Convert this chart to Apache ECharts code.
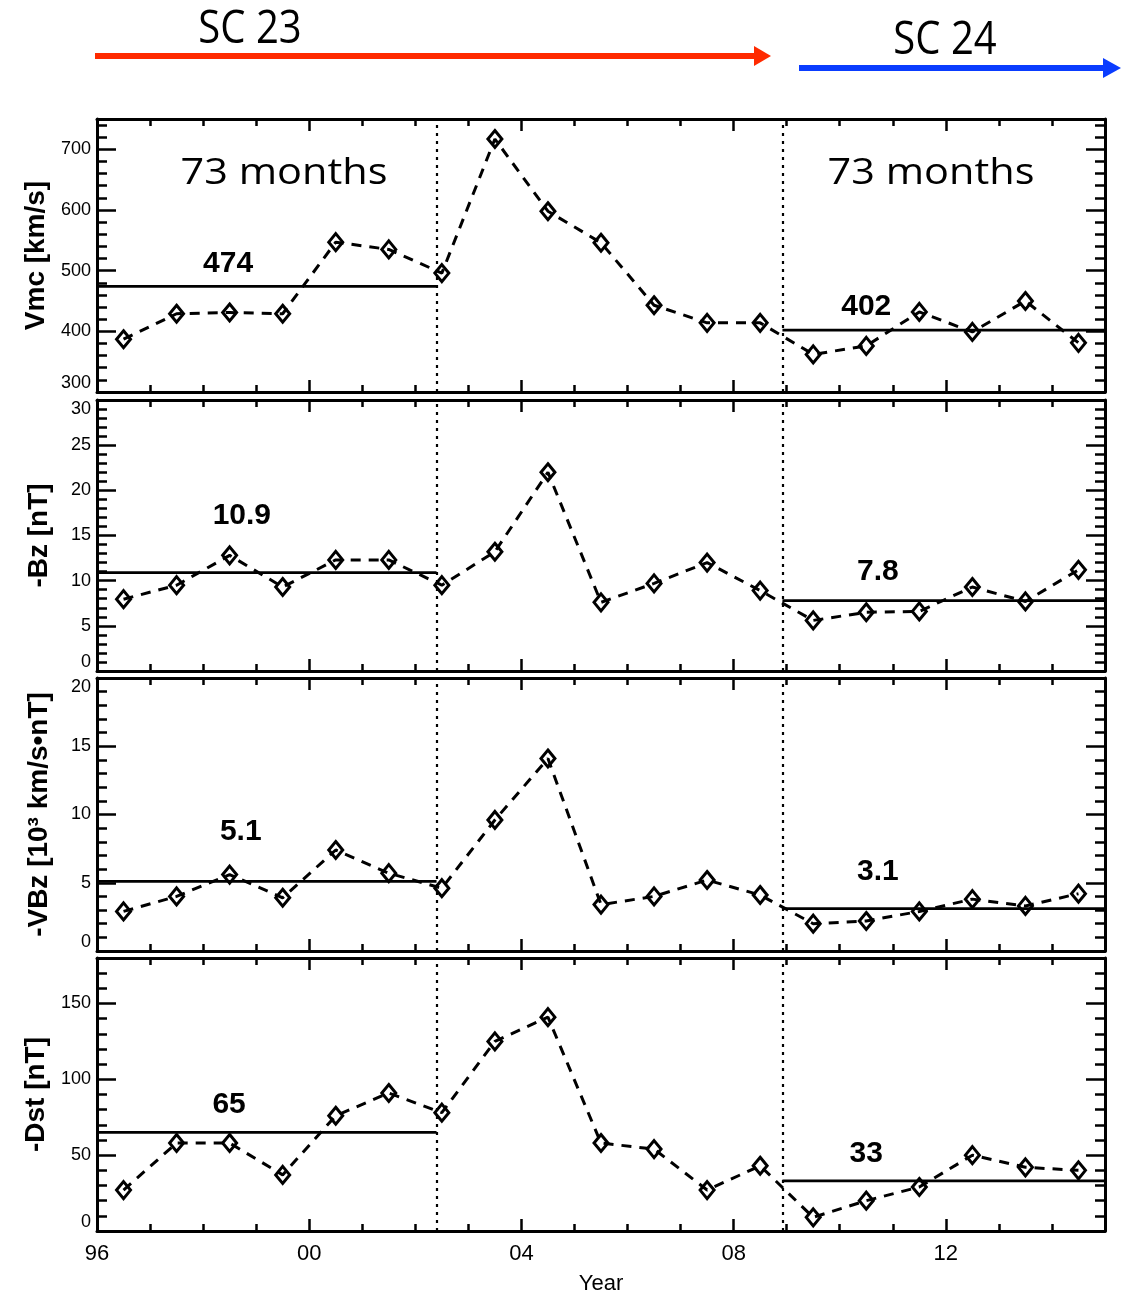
<!DOCTYPE html>
<html><head><meta charset="utf-8">
<script src="https://cdn.jsdelivr.net/npm/echarts@6/dist/echarts.min.js"></script>
<style>html,body{margin:0;padding:0;background:#fff}#c{width:1127px;height:1294px}</style>
</head><body><div id="c"></div>
<script>
// ---------- data ----------
const years = [1996.5,1997.5,1998.5,1999.5,2000.5,2001.5,2002.5,2003.5,2004.5,2005.5,2006.5,2007.5,2008.5,2009.5,2010.5,2011.5,2012.5,2013.5,2014.5];
const vmc    = [387, 429, 431, 429, 547, 535, 496, 717, 598, 546, 443, 414, 414, 362, 376, 432, 399, 450, 381];
const negBz  = [7.95, 9.5, 12.8, 9.3, 12.3, 12.3, 9.5, 13.2, 22.0, 7.6, 9.7, 12.0, 8.9, 5.6, 6.5, 6.6, 9.3, 7.7, 11.2];
const negVBz = [2.9, 4.0, 5.6, 3.9, 7.4, 5.7, 4.6, 9.6, 14.1, 3.4, 4.0, 5.2, 4.1, 2.0, 2.2, 2.9, 3.8, 3.3, 4.2];
const negDst = [27, 58, 58, 37, 76, 91, 78, 125, 141, 58, 54, 27, 43, 9, 20, 29, 50, 42, 40];
const meanSC23 = [474, 10.9, 5.1, 65];
const meanSC24 = [402, 7.8, 3.1, 33];
const meanLabelsSC23 = ['474', '10.9', '5.1', '65'];
const meanLabelsSC24 = ['402', '7.8', '3.1', '33'];
const yearStart = 1996, splitSC23 = 2002.4, startSC24 = 2008.92, yearEnd = 2015;
const xTickYears = [1996, 2000, 2004, 2008, 2012];
const xTickLabels = ['96', '00', '04', '08', '12'];
const yAxisNames = ['Vmc [km/s]', '-Bz [nT]', '-VBz [10\u00B3 km/s\u2022nT]', '-Dst [nT]'];
const cycleLabels = ['SC 23', 'SC 24'];
const spanLabel = '73 months';

// ---------- layout / styles ----------
const series4 = [vmc, negBz, negVBz, negDst];
const yScale = [ // min, max, major, minor
  [300, 750, 100, 20], [0, 30, 5, 1], [0, 20, 5, 1], [0, 180, 50, 10]
];
const gridTops = [119, 400, 678, 958];
const gridHeights = [273, 271, 273, 273];
// label placement: [x in years, lift in px above the mean line]
const labelPlace23 = [[1998.47, 23], [1998.73, 57], [1998.71, 50], [1998.49, 28]];
const labelPlace24 = [[2010.5, 23.5], [2010.72, 29], [2010.72, 37], [2010.5, 27]];

const BLACK = '#000';
const FONT = 'Liberation Sans';
const grids = [], xAxes = [], yAxes = [], series = [];

for (let i = 0; i < 4; i++) {
  grids.push({left: 97, width: 1008, top: gridTops[i], height: gridHeights[i], outerBoundsMode: 'none', containLabel: false});
  const last = i === 3;
  const [ymin, ymax, ymaj, ymin2] = yScale[i];
  const xBase = {type: 'value', gridIndex: i, min: yearStart, max: yearEnd, splitLine: {show: false}};
  xAxes.push(Object.assign({}, xBase, {
    position: 'bottom', interval: 4,
    axisLine: {show: true, onZero: false, lineStyle: {color: BLACK, width: 3}},
    axisTick: {show: true, inside: true, length: 12, lineStyle: {color: BLACK, width: 2.5}},
    axisLabel: {show: last, showMaxLabel: false, margin: 12, fontSize: 22, color: BLACK, fontFamily: FONT,
      formatter: v => { const k = xTickYears.indexOf(v); return k >= 0 ? xTickLabels[k] : ''; }},
    name: last ? 'Year' : '', nameLocation: 'middle', nameGap: 42,
    nameTextStyle: {fontSize: 22, color: BLACK, fontFamily: FONT}
  }));
  xAxes.push(Object.assign({}, xBase, {
    position: 'bottom', interval: 1,
    axisLine: {show: false, onZero: false},
    axisTick: {show: true, inside: true, length: 7, lineStyle: {color: BLACK, width: 2.5}},
    axisLabel: {show: false}
  }));
  xAxes.push(Object.assign({}, xBase, {
    position: 'top', interval: 4,
    axisLine: {show: true, onZero: false, lineStyle: {color: BLACK, width: 3}},
    axisTick: {show: true, inside: true, length: 12, lineStyle: {color: BLACK, width: 2.5}},
    axisLabel: {show: false}
  }));
  xAxes.push(Object.assign({}, xBase, {
    position: 'top', interval: 1,
    axisLine: {show: false, onZero: false},
    axisTick: {show: true, inside: true, length: 7, lineStyle: {color: BLACK, width: 2.5}},
    axisLabel: {show: false}
  }));
  const yBase = {type: 'value', gridIndex: i, min: ymin, max: ymax, splitLine: {show: false}};
  yAxes.push(Object.assign({}, yBase, {
    position: 'left', interval: ymaj,
    axisLine: {show: true, onZero: false, lineStyle: {color: BLACK, width: 3}},
    axisTick: {show: true, inside: true, length: 19, lineStyle: {color: BLACK, width: 2.5}},
    axisLabel: {show: true, margin: 6, fontSize: 18, color: BLACK, fontFamily: FONT,
      showMaxLabel: (ymax % ymaj === 0), verticalAlignMinLabel: 'bottom', verticalAlignMaxLabel: 'top'},
    name: yAxisNames[i], nameLocation: 'middle', nameGap: 44, nameRotate: 90,
    nameTextStyle: {fontSize: 28, fontWeight: 'bold', color: BLACK, fontFamily: FONT}
  }));
  yAxes.push(Object.assign({}, yBase, {
    position: 'left', interval: ymin2,
    axisLine: {show: false, onZero: false},
    axisTick: {show: true, inside: true, length: 10, lineStyle: {color: BLACK, width: 2.5}},
    axisLabel: {show: false}
  }));
  yAxes.push(Object.assign({}, yBase, {
    position: 'right', interval: ymaj,
    axisLine: {show: true, onZero: false, lineStyle: {color: BLACK, width: 3}},
    axisTick: {show: true, inside: true, length: 19, lineStyle: {color: BLACK, width: 2.5}},
    axisLabel: {show: false}
  }));
  yAxes.push(Object.assign({}, yBase, {
    position: 'right', interval: ymin2,
    axisLine: {show: false, onZero: false},
    axisTick: {show: true, inside: true, length: 10, lineStyle: {color: BLACK, width: 2.5}},
    axisLabel: {show: false}
  }));

  const xi = 4 * i, yi = 4 * i;
  series.push({
    type: 'line', xAxisIndex: xi, yAxisIndex: yi,
    data: years.map((y, k) => [y, series4[i][k]]),
    symbol: 'diamond', symbolSize: [14, 17],
    itemStyle: {color: 'rgba(255,255,255,0)', borderColor: BLACK, borderWidth: 3},
    lineStyle: {color: BLACK, width: 3, type: [10, 8]},
    z: 5,
    markLine: {
      silent: true, symbol: ['none', 'none'], label: {show: false},
      lineStyle: {color: BLACK, width: 2.2, type: [3, 5]},
      data: [{xAxis: splitSC23}, {xAxis: startSC24}]
    }
  });
  const meanDefs = [
    [yearStart, splitSC23, meanSC23[i], meanLabelsSC23[i], labelPlace23[i]],
    [startSC24, yearEnd, meanSC24[i], meanLabelsSC24[i], labelPlace24[i]]
  ];
  meanDefs.forEach(([x0, x1, m, lab, place]) => {
    series.push({
      type: 'line', xAxisIndex: xi, yAxisIndex: yi,
      data: [[x0, m], [x1, m]], symbol: 'none',
      lineStyle: {color: BLACK, width: 2.8, type: 'solid'},
      z: 4,
      markPoint: {
        silent: true, symbol: 'circle', symbolSize: 1,
        itemStyle: {color: 'rgba(0,0,0,0)'},
        label: {show: true, formatter: lab, fontSize: 30, fontWeight: 'bold', color: BLACK,
          fontFamily: FONT, offset: [0, -place[1]]},
        data: [{coord: [place[0], m]}]
      }
    });
  });
}

const RED = '#ff2a00', BLUE = '#0a3cff';
const graphic = [
  {type: 'line', shape: {x1: 95, y1: 56, x2: 757, y2: 56}, style: {stroke: RED, lineWidth: 6}},
  {type: 'polygon', shape: {points: [[754, 46], [771, 56], [754, 66]]}, style: {fill: RED}},
  {type: 'line', shape: {x1: 799, y1: 68, x2: 1106, y2: 68}, style: {stroke: BLUE, lineWidth: 6}},
  {type: 'polygon', shape: {points: [[1103, 58], [1121, 68], [1103, 78]]}, style: {fill: BLUE}},
  {type: 'text', x: 250, y: 30, scaleX: 0.87,
    style: {text: cycleLabels[0], x: 0, y: 0, fill: BLACK, font: '46px "Open Sans"',
      textAlign: 'center', textVerticalAlign: 'middle', align: 'center', verticalAlign: 'middle'}},
  {type: 'text', x: 945, y: 41, scaleX: 0.87,
    style: {text: cycleLabels[1], x: 0, y: 0, fill: BLACK, font: '46px "Open Sans"',
      textAlign: 'center', textVerticalAlign: 'middle', align: 'center', verticalAlign: 'middle'}},
  {type: 'text', x: 284, y: 173, scaleX: 1.12, z: 10,
    style: {text: spanLabel, x: 0, y: 0, fill: BLACK, font: '37px "Open Sans"',
      textAlign: 'center', textVerticalAlign: 'middle', align: 'center', verticalAlign: 'middle'}},
  {type: 'text', x: 931, y: 173, scaleX: 1.12, z: 10,
    style: {text: spanLabel, x: 0, y: 0, fill: BLACK, font: '37px "Open Sans"',
      textAlign: 'center', textVerticalAlign: 'middle', align: 'center', verticalAlign: 'middle'}}
];

const chart = echarts.init(document.getElementById('c'), null, {renderer: 'canvas'});
chart.setOption({
  animation: false,
  backgroundColor: '#fff',
  grid: grids, xAxis: xAxes, yAxis: yAxes, series: series, graphic: graphic
});
</script></body></html>
